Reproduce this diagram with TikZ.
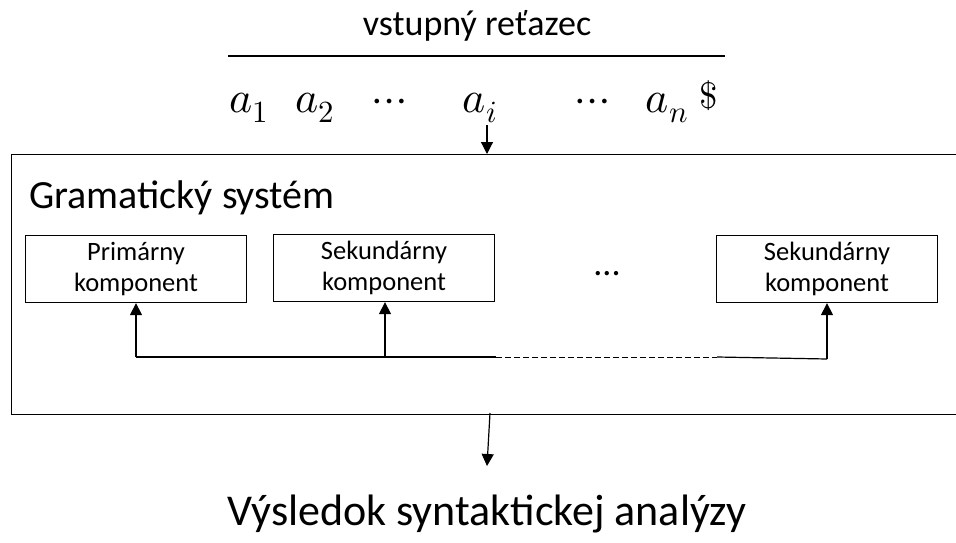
\documentclass[tikz,border=0pt]{standalone}
\usepackage{unicode-math}
\setmainfont{Carlito}
\setmathfont{Latin Modern Math}
\usetikzlibrary{arrows.meta}
\begin{document}
\begin{tikzpicture}[x=1pt,y=-1pt,
  comp/.style={draw,line width=1.3pt,minimum width=221pt,minimum height=67pt,inner sep=0pt,align=center,font=\fontsize{26.5}{31}\selectfont},
  conn/.style={line width=1.2pt},
  arr/.style={line width=1.2pt,-{Triangle[length=12pt,width=12pt]}},
  sym/.style={anchor=base,inner sep=0pt,font=\fontsize{44}{52}\selectfont}]
\useasboundingbox (0,0) rectangle (956,543);
% input string
\node[anchor=base,inner sep=0pt,font=\fontsize{36}{42}\selectfont] (title) at (477,36) {vstupný reťazec};
\coordinate (l1) at (228,56);
\coordinate (l2) at (725,56);
\draw[line width=1.1pt] (l1) -- (l2);
\node[sym] (a1) at (249,112) {$a_1$};
\node[sym] (a2) at (315,112) {$a_2$};
\node[sym] (d1) at (390,112) {$\cdots$};
\node[sym] (ai) at (480,112) {$a_i$};
\node[sym] (d2) at (593,112) {$\cdots$};
\node[sym] (an) at (667,112) {$a_n$};
\node[anchor=base,inner sep=0pt,font=\fontsize{37}{44}\selectfont] (dol) at (709,108) {$\$$};
% big box
\node[draw,line width=1.4pt,minimum width=958pt,minimum height=260pt,inner sep=0pt,anchor=north west] (sys) at (11,154) {};
\node[anchor=base west,inner sep=0pt,font=\fontsize{40}{48}\selectfont] (systxt) at (29,208) {Gramatický systém};
\coordinate (top) at (487,125);
\draw[arr] (top) -- (top |- sys.north);
% components
\node[comp] (c1) at (136,269) {Primárny\\komponent};
\node[comp] (c2) at (384,268) {Sekundárny\\komponent};
\node[comp] (c3) at (827,269) {Sekundárny\\komponent};
\node[anchor=base,inner sep=0pt,font=\fontsize{36}{40}\selectfont] (dots) at (607,275) {...};
% bus
\coordinate (b1) at (136,357);
\coordinate (b2) at (385,357);
\coordinate (b3) at (496,357);
\coordinate (b4) at (717,357);
\coordinate (b5) at (827,359);
\draw[conn] (b1) -- (b3);
\draw[conn,dashed,dash pattern=on 6pt off 3pt,line width=0.9pt] (b3) -- (b4);
\draw[conn] (b4) -- (b5);
\draw[arr] (b1) -- (c1.south);
\draw[arr] (b2) -- (c2.south -| b2);
\draw[arr] (b5) -- (c3.south);
% output
\coordinate (o1) at (490,413);
\coordinate (o2) at (487,466);
\draw[arr] (o1) -- (o2);
\node[anchor=base,inner sep=0pt,font=\fontsize{44}{52}\selectfont] (out) at (487,525) {Výsledok syntaktickej analýzy};
\end{tikzpicture}
\end{document}
